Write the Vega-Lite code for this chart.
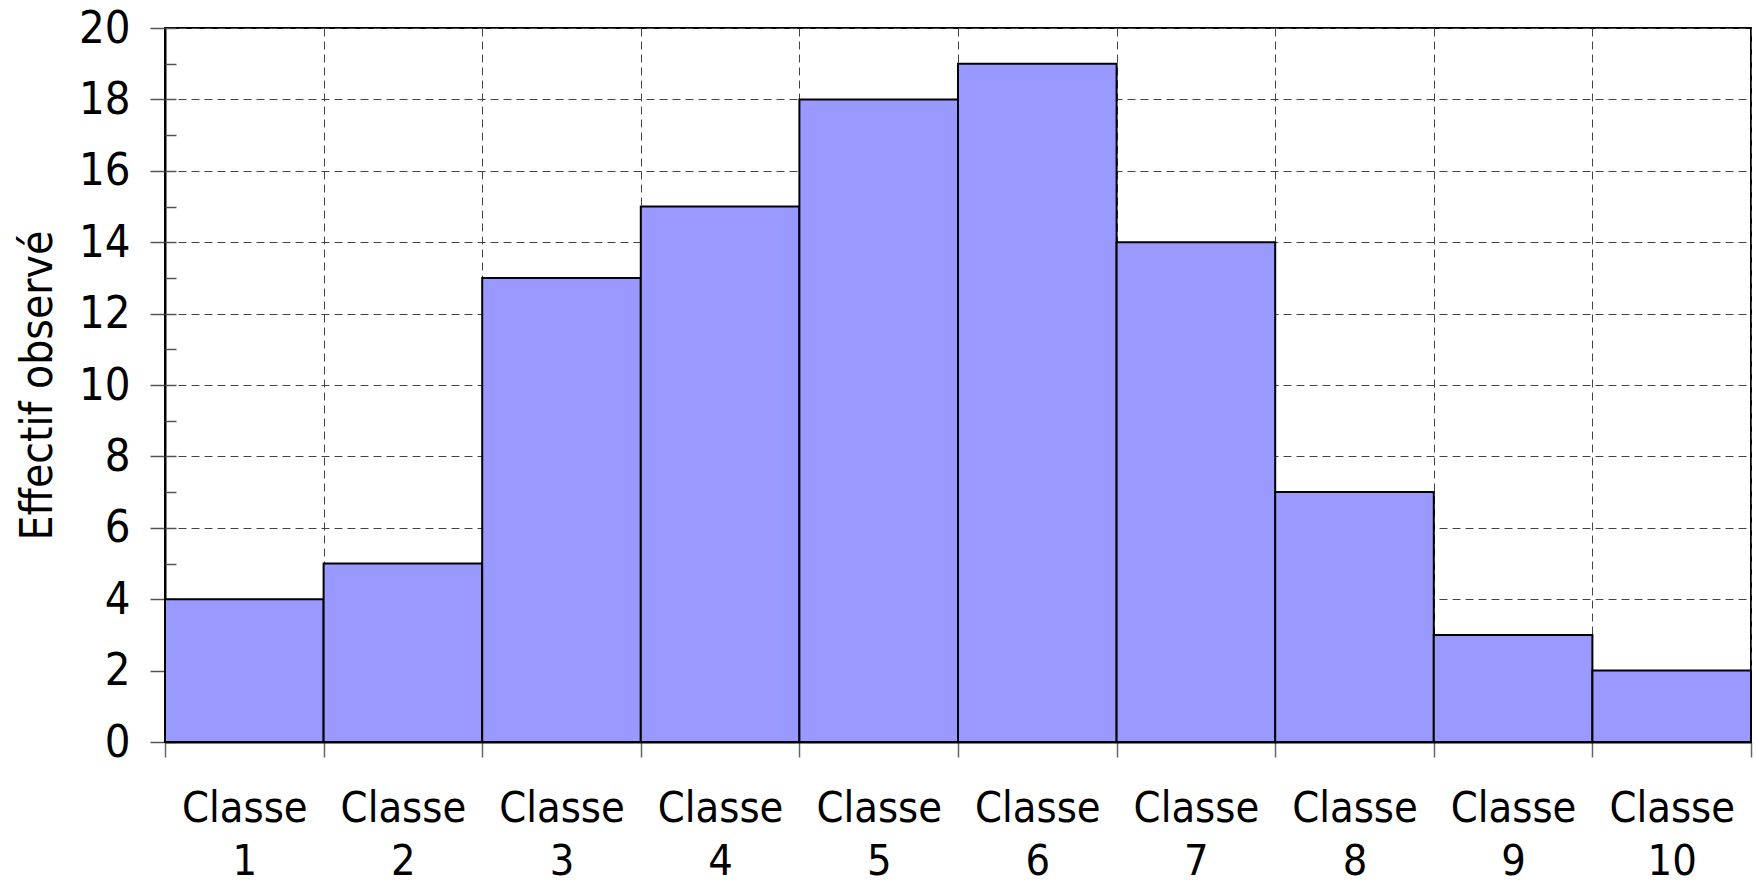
{
  "$schema": "https://vega.github.io/schema/vega-lite/v6.json",
  "autosize": {"type": "none"},
  "padding": {"left": 165, "top": 28, "right": 5, "bottom": 144},
  "width": 1586,
  "height": 714,
  "config": {
    "font": "DejaVu Sans Condensed",
    "view": {"stroke": "black", "strokeWidth": 2}
  },
  "data": {
    "values": [
      {"classe": 1, "lo": 0, "hi": 1, "n": 4},
      {"classe": 2, "lo": 1, "hi": 2, "n": 5},
      {"classe": 3, "lo": 2, "hi": 3, "n": 13},
      {"classe": 4, "lo": 3, "hi": 4, "n": 15},
      {"classe": 5, "lo": 4, "hi": 5, "n": 18},
      {"classe": 6, "lo": 5, "hi": 6, "n": 19},
      {"classe": 7, "lo": 6, "hi": 7, "n": 14},
      {"classe": 8, "lo": 7, "hi": 8, "n": 7},
      {"classe": 9, "lo": 8, "hi": 9, "n": 3},
      {"classe": 10, "lo": 9, "hi": 10, "n": 2}
    ]
  },
  "layer": [
    {
      "mark": {"type": "bar", "fill": "#9999ff", "stroke": "black", "strokeWidth": 2},
      "encoding": {
        "x": {
          "field": "lo", "type": "quantitative",
          "scale": {"domain": [0, 10], "nice": false, "zero": false},
          "axis": {
            "values": [0, 1, 2, 3, 4, 5, 6, 7, 8, 9, 10],
            "title": null,
            "grid": true, "gridColor": "#444", "gridDash": [8, 5], "gridWidth": 1, "gridOpacity": 1,
            "tickSize": 15, "tickColor": "#666", "tickWidth": 1.5,
            "domainColor": "black", "domainWidth": 2,
            "labelExpr": "datum.value < 10 ? ['Classe', '' + (datum.value + 1)] : ''",
            "labelOffset": 79.3,
            "labelAlign": "center",
            "labelBaseline": "top",
            "labelPadding": 30,
            "labelFontSize": 43,
            "labelLineHeight": 53,
            "labelColor": "black",
            "labelOverlap": false,
            "labelFlush": false,
            "labelBound": false
          }
        },
        "x2": {"field": "hi"},
        "y": {
          "field": "n", "type": "quantitative",
          "scale": {"domain": [0, 20], "nice": false},
          "axis": {
            "values": [0, 2, 4, 6, 8, 10, 12, 14, 16, 18, 20],
            "title": "Effectif observé",
            "titleFontSize": 44,
            "titleFontWeight": "normal",
            "titleColor": "black",
            "titlePadding": 18,
            "grid": true, "gridColor": "#444", "gridDash": [8, 5], "gridWidth": 1, "gridOpacity": 1,
            "tickSize": 15, "tickColor": "#555", "tickWidth": 1.5,
            "domainColor": "black", "domainWidth": 2,
            "labelFontSize": 45,
            "labelColor": "black",
            "labelPadding": 20,
            "labelOverlap": false,
            "labelFlush": false
          }
        },
        "y2": {"datum": 0}
      }
    },
    {
      "mark": {"type": "rule", "opacity": 0},
      "encoding": {
        "y": {
          "field": "n", "type": "quantitative",
          "scale": {"domain": [0, 20], "nice": false},
          "axis": {
            "orient": "left",
            "values": [0, 1, 2, 3, 4, 5, 6, 7, 8, 9, 10, 11, 12, 13, 14, 15, 16, 17, 18, 19, 20],
            "title": null,
            "labels": false,
            "domain": false,
            "grid": false,
            "tickSize": -11,
            "tickColor": "#555",
            "tickWidth": 1.5
          }
        }
      }
    }
  ],
  "resolve": {"scale": {"y": "independent"}}
}
